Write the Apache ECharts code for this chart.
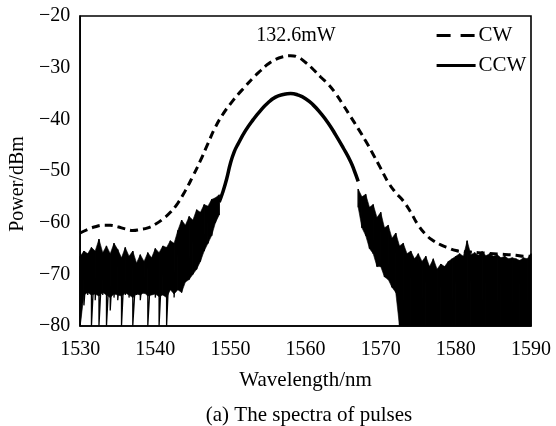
<!DOCTYPE html>
<html>
<head>
<meta charset="utf-8">
<script src="https://cdn.jsdelivr.net/npm/echarts@6/dist/echarts.min.js"></script>
<style>
html,body{margin:0;padding:0;background:#fff;}
#chart{width:556px;height:426px;}
</style>
</head>
<body>
<div id="chart"></div>
<script>
// ---- data ----
const xTicks = [1530, 1540, 1550, 1560, 1570, 1580, 1590];
const yTicks = [-80, -70, -60, -50, -40, -30, -20];

// CW spectrum (dashed)
const cwWavelength = [1530,1531,1532,1533,1534,1535,1536,1537,1538,1539,1540,1541,1542,1543,1544,1545,1546,1547,1548,1549,1550,1551,1552,1553,1554,1555,1556,1557,1558,1559,1560,1561,1562,1563,1564,1565,1566,1567,1568,1569,1570,1571,1572,1573,1574,1575,1576,1577,1578,1579,1580,1581,1582,1583,1584,1585,1586,1587,1588,1589,1590];
const cwPower = [-62,-61.3,-60.8,-60.5,-60.5,-60.8,-61.2,-61.5,-61.3,-61,-60.3,-59.3,-58,-56.2,-53.8,-51,-48,-44.7,-41.5,-39,-37,-35.2,-33.6,-32.0,-30.6,-29.3,-28.4,-27.9,-27.7,-28.0,-29.0,-30.3,-31.8,-33.2,-35,-37.2,-39.5,-41.8,-44.2,-46.8,-49.5,-52.2,-54.2,-55.8,-58,-60.5,-62.3,-63.5,-64.3,-64.9,-65.4,-65.6,-65.7,-65.8,-65.9,-66,-66.1,-66.2,-66.3,-66.5,-66.5];

// CCW spectrum: smooth central part
const ccwWavelength = [1548.5,1549,1549.5,1550,1550.5,1551,1552,1553,1554,1555,1556,1557,1558,1559,1560,1561,1562,1563,1564,1565,1566,1566.5,1567];
const ccwPower = [-56,-54,-51.5,-48.5,-46.3,-44.8,-42.2,-40.1,-38.3,-36.8,-35.7,-35.2,-35,-35.3,-36,-37.2,-38.8,-40.7,-43,-45.5,-48.2,-50,-52];

// CCW noisy short-wavelength side: upper envelope, solid-core bottom, deepest spikes
const ccwNoiseLeftWavelength = [1530,1530.5,1531,1531.5,1532,1532.5,1533,1533.5,1534,1534.5,1535,1535.5,1536,1536.5,1537,1537.5,1538,1538.5,1539,1539.5,1540,1540.5,1541,1541.5,1542,1542.5,1543,1543.5,1544,1544.5,1545,1545.5,1546,1546.5,1547,1547.5,1548,1548.5];
const ccwNoiseLeftUpper = [-66.5,-65.5,-66,-64.8,-65.5,-63.2,-65.8,-64.5,-66,-64,-65.2,-66.8,-64.8,-66.5,-65.5,-67.8,-66.2,-67.5,-65.8,-66.8,-65,-65.8,-64.5,-64.8,-63.5,-64,-61.5,-59.5,-60.5,-58.8,-59.5,-57.5,-58,-56.5,-56.8,-55.5,-55.2,-54.6];
const ccwNoiseLeftCore = [-80,-74,-73.5,-74,-73.8,-74.2,-73.5,-74,-74.5,-73.8,-74,-74.2,-73.6,-74,-74.5,-73.8,-74,-73.5,-74.2,-74,-73.8,-74.3,-74,-74.5,-73,-73.8,-73,-73.5,-71.5,-71,-70,-69,-67.5,-65.5,-64,-62.5,-60,-58.5];
const ccwNoiseLeftLower = [-80,-76,-74,-80,-75,-80,-74,-80,-77,-74.5,-75,-80,-74,-74.5,-80,-74,-75,-73.8,-80,-74,-74.5,-80,-74,-80,-73,-74.5,-73,-73.5,-71.5,-71,-70,-69,-67.5,-65.5,-64,-62.5,-60,-58.5];

// CCW noisy long-wavelength side: upper and lower envelope
const ccwNoiseRightWavelength = [1567,1567.5,1568,1568.5,1569,1569.5,1570,1570.5,1571,1571.5,1572,1572.5,1573,1573.5,1574,1574.5,1575,1575.5,1576,1576.5,1577,1577.5,1578,1578.5,1579,1579.5,1580,1580.5,1581,1581.5,1582,1582.5,1583,1583.5,1584,1584.5,1585,1585.5,1586,1586.5,1587,1587.5,1588,1588.5,1589,1589.5,1590];
const ccwNoiseRightUpper = [-53.5,-55,-54.5,-57,-56.5,-59,-58,-61,-60.5,-63,-62,-64.5,-64,-66,-65.5,-67,-66,-67.5,-66.5,-68.5,-67,-69,-68,-68.5,-67.5,-67,-66.5,-66,-66.5,-63.5,-66.2,-65.8,-66.3,-65.6,-66.4,-66,-66.5,-66.2,-66.8,-66.5,-67,-66.8,-67,-67.3,-66.8,-67,-66];
const ccwNoiseRightLower = [-57,-61,-62.5,-65,-66,-68.5,-68.5,-70.5,-71,-72.5,-73.5,-80,-80,-80,-80,-80,-80,-80,-80,-80,-80,-80,-80,-80,-80,-80,-80,-80,-80,-80,-80,-80,-80,-80,-80,-80,-80,-80,-80,-80,-80,-80,-80,-80,-80,-80,-80];

const annotationText = '132.6mW';
const captionText = '(a) The spectra of pulses';

// ---- build series data ----
const zip = (xs, ys) => xs.map((x, i) => [x, ys[i]]);
function zigzag(xs, up, lo) {
  const out = [];
  xs.forEach((x, i) => { out.push([x, up[i]]); out.push([x, lo[i]]); });
  return out;
}
// segments between consecutive envelope samples: [x0, up0, lo0, x1, up1, lo1]
function bandSegments(xs, up, lo) {
  const out = [];
  for (let i = 0; i < xs.length - 1; i++) out.push([xs[i], up[i], lo[i], xs[i + 1], up[i + 1], lo[i + 1]]);
  return out;
}
const FONT = 'Liberation Serif';
const minus = v => String(v).replace('-', '\u2212');

function bandSeries(name, xs, up, lo) {
  return {
    name: name, type: 'custom', silent: true, z: 1,
    data: bandSegments(xs, up, lo),
    encode: { x: [0, 3], y: [1, 2, 4, 5] },
    renderItem: function (params, api) {
      const a = api.coord([api.value(0), api.value(1)]);
      const b = api.coord([api.value(3), api.value(4)]);
      const c = api.coord([api.value(3), api.value(5)]);
      const d = api.coord([api.value(0), api.value(2)]);
      return { type: 'polygon', shape: { points: [a, b, c, d] },
               style: { fill: '#000', stroke: '#000', lineWidth: 0.6 } };
    }
  };
}

const chart = echarts.init(document.getElementById('chart'));
chart.setOption({
  animation: false,
  backgroundColor: '#fff',
  grid: { left: 77, right: 25, top: 16, bottom: 100, show: true, borderColor: '#000', borderWidth: 1.6, containLabel: false },
  xAxis: {
    type: 'value', min: xTicks[0], max: xTicks[xTicks.length - 1], interval: 10,
    name: 'Wavelength/nm', nameLocation: 'middle', nameGap: 44,
    nameTextStyle: { fontFamily: FONT, fontSize: 21, color: '#000' },
    axisLine: { show: true, lineStyle: { color: '#000', width: 1.6 } },
    axisTick: { show: false }, splitLine: { show: false },
    axisLabel: { fontFamily: FONT, fontSize: 20, color: '#000', margin: 14, formatter: v => String(v) }
  },
  yAxis: {
    type: 'value', min: yTicks[0], max: yTicks[yTicks.length - 1], interval: 10,
    name: 'Power/dBm', nameLocation: 'middle', nameGap: 52, nameRotate: 90,
    nameTextStyle: { fontFamily: FONT, fontSize: 20, color: '#000', padding: [0, 26, 0, 0] },
    axisLine: { show: true, lineStyle: { color: '#000', width: 1.6 } },
    axisTick: { show: false }, splitLine: { show: false },
    axisLabel: { fontFamily: FONT, fontSize: 20, color: '#000', margin: 10, formatter: minus }
  },
  legend: {
    data: [
      { name: 'CW', lineStyle: { type: [14, 10], width: 3.2 } },
      { name: 'CCW', lineStyle: { width: 3.2 } }
    ],
    orient: 'vertical', left: 435, top: 25, itemGap: 9,
    itemWidth: 39, itemHeight: 14, padding: 0, itemStyle: { opacity: 0 },
    textStyle: { fontFamily: FONT, fontSize: 21, color: '#000', padding: [0, 0, 0, -2] }
  },
  graphic: [
    { type: 'text', x: 296, y: 36, style: { text: annotationText, fontFamily: FONT, fontSize: 20, fill: '#000', textAlign: 'center', textVerticalAlign: 'middle' } },
    { type: 'text', x: 309, y: 415, style: { text: captionText, fontFamily: FONT, fontSize: 21, fill: '#000', textAlign: 'center', textVerticalAlign: 'middle' } }
  ],
  series: [
    bandSeries('noiseBandL', ccwNoiseLeftWavelength, ccwNoiseLeftUpper, ccwNoiseLeftCore),
    bandSeries('noiseBandR', ccwNoiseRightWavelength, ccwNoiseRightUpper, ccwNoiseRightLower),
    { name: 'noiseLineL', type: 'line', data: zigzag(ccwNoiseLeftWavelength, ccwNoiseLeftUpper, ccwNoiseLeftLower),
      symbol: 'none', lineStyle: { color: '#000', width: 1.3 }, z: 2, silent: true },
    { name: 'noiseLineR', type: 'line', data: zigzag(ccwNoiseRightWavelength, ccwNoiseRightUpper, ccwNoiseRightLower),
      symbol: 'none', lineStyle: { color: '#000', width: 1.3 }, z: 2, silent: true },
    { name: 'CCW', type: 'line', data: zip(ccwWavelength, ccwPower), smooth: true, symbol: 'none',
      lineStyle: { color: '#000', width: 3.5 }, itemStyle: { color: '#000' }, z: 3 },
    { name: 'CW', type: 'line', data: zip(cwWavelength, cwPower), smooth: true, symbol: 'none',
      lineStyle: { color: '#000', width: 3, type: [8, 5] }, itemStyle: { color: '#000' }, z: 4 }
  ]
});
</script>
</body>
</html>
